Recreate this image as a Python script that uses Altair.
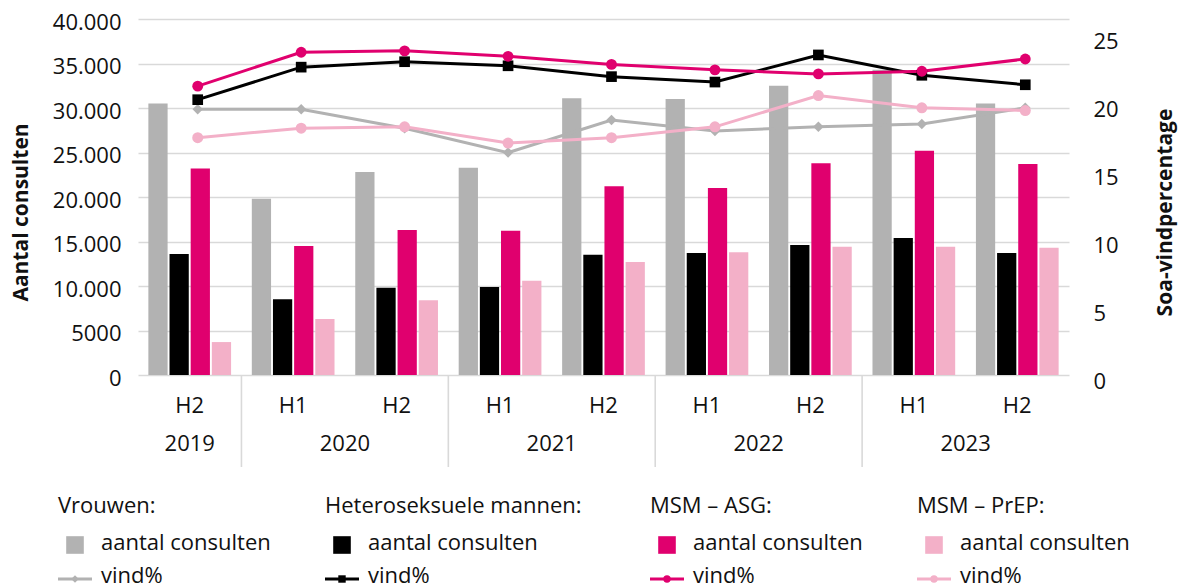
import altair as alt
import pandas as pd

# ---------------- data ----------------
years = [2019, 2020, 2020, 2021, 2021, 2022, 2022, 2023, 2023]
halves = ["H2", "H1", "H2", "H1", "H2", "H1", "H2", "H1", "H2"]

groups = ["Vrouwen", "Heteroseksuele mannen", "MSM – ASG", "MSM – PrEP"]
legend_headers = ["Vrouwen:", "Heteroseksuele mannen:", "MSM – ASG:", "MSM – PrEP:"]

consulten_vrouwen = [30500, 19800, 22800, 23300, 31100, 31000, 32500, 34300, 30500]
consulten_hetero = [13600, 8500, 9800, 9900, 13500, 13700, 14600, 15400, 13700]
consulten_asg = [23200, 14500, 16300, 16200, 21200, 21000, 23800, 25200, 23700]
consulten_prep = [3700, 6300, 8400, 10600, 12700, 13800, 14400, 14400, 14300]

vind_vrouwen = [19.6, 19.6, 18.2, 16.4, 18.8, 18.0, 18.3, 18.5, 19.7]
vind_hetero = [20.3, 22.7, 23.1, 22.8, 22.0, 21.6, 23.6, 22.1, 21.4]
vind_asg = [21.3, 23.8, 23.9, 23.5, 22.9, 22.5, 22.2, 22.4, 23.3]
vind_prep = [17.5, 18.2, 18.3, 17.1, 17.5, 18.3, 20.6, 19.7, 19.5]

colors = ["#b2b2b2", "#000000", "#e0006e", "#f3b0c8"]
shapes = ["diamond", "square", "circle", "circle"]
sizes = [110, 121, 100, 100]

FONT = "Open Sans"
TXT = "#111111"

keys = [f"{y}-{h}" for y, h in zip(years, halves)]
consulten = [consulten_vrouwen, consulten_hetero, consulten_asg, consulten_prep]
vind = [vind_vrouwen, vind_hetero, vind_asg, vind_prep]

bars_df = pd.DataFrame(
    [{"key": k, "group": g, "value": v}
     for gi, g in enumerate(groups) for k, v in zip(keys, consulten[gi])]
)
pct_df = pd.DataFrame(
    [{"key": k, "group": g, "pct": v, "gi": gi}
     for gi, g in enumerate(groups) for k, v in zip(keys, vind[gi])]
)
period_df = pd.DataFrame({"key": keys, "half": halves})
year_list = sorted(set(years))
year_h1 = pd.DataFrame({"key": [f"{y}-H1" for y in year_list if f"{y}-H1" in keys],
                        "year": [str(y) for y in year_list if f"{y}-H1" in keys]})
year_single = pd.DataFrame({"key": [f"{y}-H2" for y in year_list if f"{y}-H1" not in keys],
                            "year": [str(y) for y in year_list if f"{y}-H1" not in keys]})

# ---------------- layout ----------------
W, H = 931, 356
x_scale = alt.Scale(domain=keys, paddingInner=0, paddingOuter=0)
color_scale = alt.Scale(domain=groups, range=colors)


def X(**kw):
    return alt.X("key:N", scale=x_scale, axis=None, **kw)


bars = alt.Chart(bars_df).mark_bar().encode(
    x=X(),
    xOffset=alt.XOffset("group:N", scale=alt.Scale(domain=groups, paddingInner=0.09, paddingOuter=0.49)),
    y=alt.Y(
        "value:Q",
        scale=alt.Scale(domain=[0, 40000], nice=False),
        axis=alt.Axis(
            values=list(range(0, 40001, 5000)),
            title="Aantal consulten",
            titleFont=FONT, titleFontSize=21, titleFontWeight="bold", titleColor=TXT,
            titleAngle=270, titleX=-117, titleY=193, titleAlign="center", titleBaseline="middle",
            labelFont=FONT, labelFontSize=22, labelColor=TXT, labelPadding=17, labelOffset=3,
            labelExpr="datum.value >= 10000 ? replace(format(datum.value, ',.0f'), ',', '.') : format(datum.value, 'd')",
            ticks=False, domain=False,
            grid=True, gridColor="#d9d9d9", gridWidth=1.6,
        ),
    ),
    color=alt.Color("group:N", scale=color_scale, legend=None),
    order=alt.Order("group:N"),
)

period_text = alt.Chart(period_df).mark_text(font=FONT, fontSize=22, color=TXT, baseline="middle").encode(
    x=X(), y=alt.value(387), text="half:N"
)
year_text1 = alt.Chart(year_h1).mark_text(font=FONT, fontSize=22, color=TXT, baseline="middle").encode(
    x=X(bandPosition=1), y=alt.value(425), text="year:N"
)
year_text2 = alt.Chart(year_single).mark_text(font=FONT, fontSize=22, color=TXT, baseline="middle").encode(
    x=X(bandPosition=0.5), y=alt.value(425), text="year:N"
)
separators = alt.Chart(year_h1).mark_rule(color="#d9d9d9", strokeWidth=1.6).encode(
    x=X(bandPosition=0), y=alt.value(H), y2=alt.value(448)
)

left_layer = alt.layer(bars, separators, period_text, year_text1, year_text2)

y_pct = alt.Y(
    "pct:Q",
    scale=alt.Scale(domain=[0, 26.25], nice=False),
    axis=alt.Axis(
        orient="right",
        values=[0, 5, 10, 15, 20, 25],
        title="Soa-vindpercentage",
        titleFont=FONT, titleFontSize=21, titleFontWeight="bold", titleColor=TXT,
        titleAngle=270, titleX=96, titleY=193, titleAlign="center", titleBaseline="middle",
        labelFont=FONT, labelFontSize=22, labelColor=TXT, labelPadding=24, labelOffset=6,
        ticks=False, domain=False, grid=False,
    ),
)

lines = alt.Chart(pct_df).mark_line(strokeWidth=3, xOffset=8).encode(
    x=X(), y=y_pct, color=alt.Color("group:N", scale=color_scale, legend=None),
    order=alt.Order("gi:Q"),
)
points = alt.Chart(pct_df).mark_point(filled=True, opacity=1, xOffset=8).encode(
    x=X(), y=y_pct,
    color=alt.Color("group:N", scale=color_scale, legend=None),
    shape=alt.Shape("group:N", scale=alt.Scale(domain=groups, range=shapes), legend=None),
    size=alt.Size("group:N", scale=alt.Scale(domain=groups, range=sizes), legend=None),
)
right_layer = alt.layer(lines, points)

# ---------------- custom legend (positions in view pixels) ----------------
col_x = [-80, 187, 512, 779]
leg_rows = []
for gi, g in enumerate(groups):
    cx = col_x[gi]
    leg_rows.append({"group": g, "header": legend_headers[gi], "hx": cx, "hy": 494,
                     "sx": cx + 17, "sy": 526, "tx": cx + 43, "ty1": 531, "ty2": 564,
                     "lx1": cx, "lx2": cx + 34, "ly": 560})
leg_df = pd.DataFrame(leg_rows)

leg_header = alt.Chart(leg_df).mark_text(font=FONT, fontSize=22, color=TXT, align="left", baseline="alphabetic").encode(
    x=alt.X("hx:Q", scale=None, axis=None), y=alt.Y("hy:Q", scale=None, axis=None), text="header:N"
)
leg_sq = alt.Chart(leg_df).mark_square(size=310, opacity=1).encode(
    x=alt.X("sx:Q", scale=None, axis=None), y=alt.Y("sy:Q", scale=None, axis=None),
    color=alt.Color("group:N", scale=color_scale, legend=None),
)
leg_t1 = alt.Chart(leg_df).mark_text(font=FONT, fontSize=22, color=TXT, align="left", baseline="alphabetic", text="aantal consulten").encode(
    x=alt.X("tx:Q", scale=None, axis=None), y=alt.Y("ty1:Q", scale=None, axis=None)
)
leg_t2 = alt.Chart(leg_df).mark_text(font=FONT, fontSize=22, color=TXT, align="left", baseline="alphabetic", text="vind%").encode(
    x=alt.X("tx:Q", scale=None, axis=None), y=alt.Y("ty2:Q", scale=None, axis=None)
)
leg_line = alt.Chart(leg_df).mark_rule(strokeWidth=3).encode(
    x=alt.X("lx1:Q", scale=None, axis=None), x2="lx2:Q",
    y=alt.Y("ly:Q", scale=None, axis=None),
    color=alt.Color("group:N", scale=color_scale, legend=None),
)
leg_pt = alt.Chart(leg_df).mark_point(filled=True, opacity=1).encode(
    x=alt.X("sx:Q", scale=None, axis=None), y=alt.Y("ly:Q", scale=None, axis=None),
    color=alt.Color("group:N", scale=color_scale, legend=None),
    shape=alt.Shape("group:N", scale=alt.Scale(domain=groups, range=shapes), legend=None),
    size=alt.value(55),
)
legend_layer = alt.layer(leg_header, leg_sq, leg_t1, leg_t2, leg_line, leg_pt)

chart = (
    alt.layer(left_layer, right_layer, legend_layer)
    .resolve_scale(y="independent")
    .properties(
        width=W, height=H,
        autosize=alt.AutoSizeParams(type="none"),
        padding={"left": 130, "top": 11, "right": 1176 - 130 - W, "bottom": 600 - 11 - H},
    )
    .configure(font=FONT, view=alt.ViewConfig(strokeWidth=0, stroke=None))
)

chart.save("out.html", embed_options={"renderer": "svg", "actions": False})
